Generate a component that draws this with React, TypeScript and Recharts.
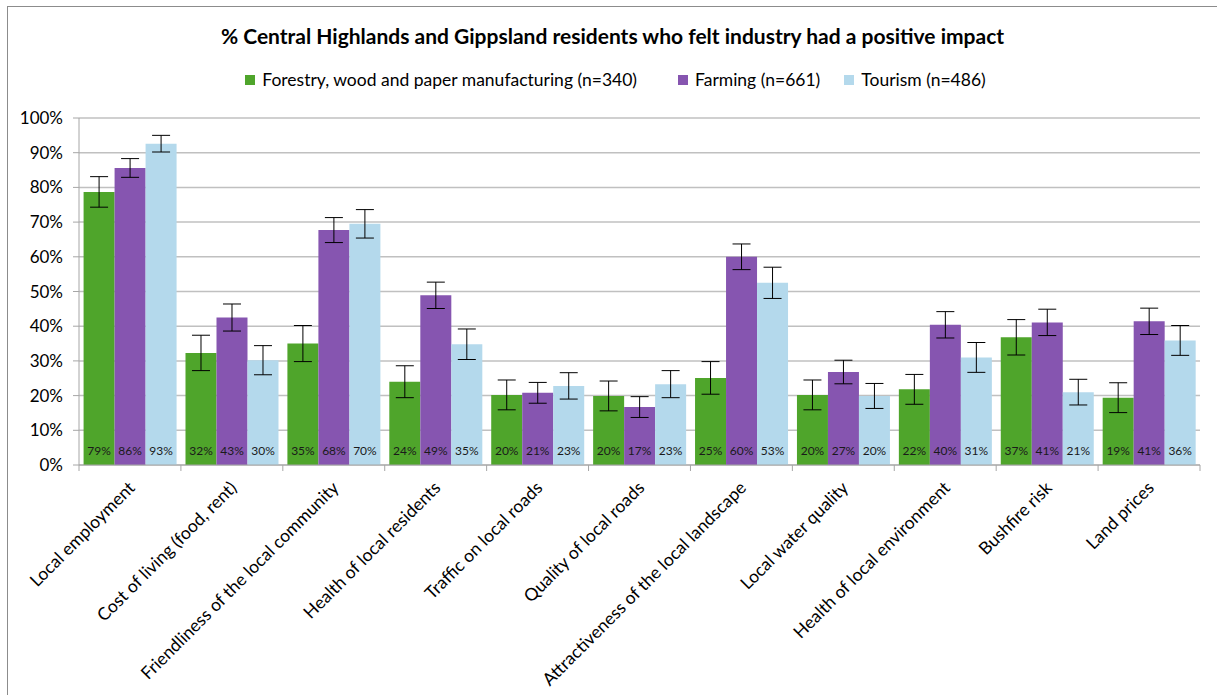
import React from 'react';
import { BarChart, Bar, XAxis, YAxis, CartesianGrid, Legend, ErrorBar, LabelList } from 'recharts';

const categories = [
  'Local employment',
  'Cost of living (food, rent)',
  'Friendliness of the local community',
  'Health of local residents',
  'Traffic on local roads',
  'Quality of local roads',
  'Attractiveness of the local landscape',
  'Local water quality',
  'Health of local environment',
  'Bushfire risk',
  'Land prices',
];

const forestry = [78.7, 32.3, 35.0, 24.0, 20.2, 19.9, 25.1, 20.2, 21.8, 36.8, 19.4];
const farming = [85.6, 42.5, 67.7, 48.9, 20.8, 16.7, 60.0, 26.8, 40.4, 41.1, 41.4];
const tourism = [92.6, 30.2, 69.5, 34.8, 22.8, 23.3, 52.5, 19.9, 31.0, 21.0, 35.9];

const forestryErr = [4.4, 5.1, 5.2, 4.6, 4.3, 4.3, 4.7, 4.3, 4.3, 5.1, 4.3];
const farmingErr = [2.7, 3.9, 3.6, 3.8, 3.0, 3.0, 3.7, 3.4, 3.8, 3.8, 3.8];
const tourismErr = [2.4, 4.2, 4.1, 4.4, 3.8, 3.9, 4.5, 3.6, 4.3, 3.7, 4.3];

const yTicks = [0, 10, 20, 30, 40, 50, 60, 70, 80, 90, 100];

const series = [
  { key: 'forestry', name: 'Forestry, wood and paper manufacturing (n=340)', color: '#4FA52B' },
  { key: 'farming', name: 'Farming (n=661)', color: '#8655B0' },
  { key: 'tourism', name: 'Tourism (n=486)', color: '#B4D9EC' },
];

const data = categories.map((name, i) => ({
  name,
  forestry: forestry[i],
  farming: farming[i],
  tourism: tourism[i],
  forestryErr: forestryErr[i],
  farmingErr: farmingErr[i],
  tourismErr: tourismErr[i],
}));

const FONT = 'Lato, "Noto Sans", sans-serif';
const CHART_W = 1209;
const CHART_H = 688;
// the legend box (~19px) is added to the top offset by recharts
const MARGIN = { top: 90, right: 17, left: 0, bottom: 0 };
const Y_W = 71;
const X_H = 230;

const XTick = (props: any) => {
  const { x, y, payload, index, visibleTicksCount } = props;
  const count = visibleTicksCount || categories.length;
  const band = (CHART_W - MARGIN.left - MARGIN.right - Y_W) / count;
  const ax = x + 6;
  const ay = y + 24;
  return (
    <g>
      <line x1={x - band / 2} x2={x - band / 2} y1={y} y2={y + 6} stroke="#a6a6a6" />
      {index === count - 1 && <line x1={x + band / 2} x2={x + band / 2} y1={y} y2={y + 6} stroke="#a6a6a6" />}
      <text x={ax} y={ay} transform={`rotate(-45, ${ax}, ${ay})`} textAnchor="end" fontSize={17.5} fontFamily={FONT} fill="#000">
        {payload.value}
      </text>
    </g>
  );
};

const BarValue = (props: any) => {
  const { x, y, width, height, value } = props;
  return (
    <text
      x={x + width / 2}
      y={y + height - 15}
      textAnchor="middle"
      dominantBaseline="central"
      fontSize={12}
      fontFamily={FONT}
      fill="#1a1a1a"
    >
      {`${Math.round(value)}%`}
    </text>
  );
};

const legendGaps = [0, 41, 24];

const LegendContent = () => (
  <div style={{ display: 'flex', justifyContent: 'center', fontFamily: FONT, fontSize: 17.5, color: '#000', paddingLeft: 6 }}>
    {series.map((s, i) => (
      <div key={s.key} style={{ display: 'flex', alignItems: 'center', marginLeft: legendGaps[i] }}>
        <span style={{ width: 10, height: 10, background: s.color, display: 'inline-block', marginRight: 7 }} />
        <span>{s.name}</span>
      </div>
    ))}
  </div>
);

export default function App() {
  return (
    <div
      style={{
        position: 'absolute',
        left: 7,
        top: 6,
        width: 1210,
        height: 689,
        boxSizing: 'border-box',
        borderTop: '1px solid #8c8c8c',
        borderLeft: '1px solid #8c8c8c',
        background: '#fff',
      }}
    >
      <div
        style={{
          position: 'absolute',
          top: 16,
          left: 0,
          width: CHART_W,
          textAlign: 'center',
          fontFamily: FONT,
          fontWeight: 'bold',
          fontSize: 21,
          color: '#000',
        }}
      >
        % Central Highlands and Gippsland residents who felt industry had a positive impact
      </div>
      <BarChart width={CHART_W} height={CHART_H} data={data} margin={MARGIN} barCategoryGap="4.5%" barGap={0}>
        <CartesianGrid vertical={false} stroke="#c0c0c0" strokeWidth={1.5} />
        <XAxis
          dataKey="name"
          interval={0}
          height={X_H}
          tick={<XTick />}
          tickLine={false}
          tickSize={0}
          tickMargin={0}
          axisLine={{ stroke: '#a6a6a6' }}
        />
        <YAxis
          width={Y_W}
          domain={[0, 100]}
          ticks={yTicks}
          tickFormatter={(v) => `${v}%`}
          tick={{ fill: '#000', fontSize: 17, fontFamily: FONT }}
          tickSize={6}
          tickMargin={10}
          axisLine={{ stroke: '#a6a6a6' }}
          tickLine={{ stroke: '#a6a6a6' }}
          interval={0}
        />
        <Legend verticalAlign="top" content={<LegendContent />} wrapperStyle={{ top: 62, left: 0, width: CHART_W }} />
        {series.map((s) => (
          <Bar key={s.key} dataKey={s.key} name={s.name} fill={s.color} isAnimationActive={false}>
            <ErrorBar dataKey={`${s.key}Err`} width={9} stroke="#000" strokeWidth={1} direction="y" />
            <LabelList dataKey={s.key} content={<BarValue />} />
          </Bar>
        ))}
      </BarChart>
    </div>
  );
}
